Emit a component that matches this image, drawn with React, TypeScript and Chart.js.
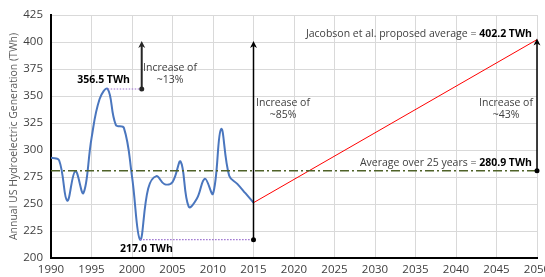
import React, { useEffect, useRef } from "react";
import { Chart, registerables } from "chart.js";

Chart.register(...registerables);

const years = [1990, 1991, 1992, 1993, 1994, 1995, 1996, 1997, 1998, 1999, 2000, 2001, 2002, 2003, 2004, 2005, 2006, 2007, 2008, 2009, 2010, 2011, 2012, 2013, 2014, 2015];
const hydro = [292.9, 290.5, 253.1, 280.5, 260.1, 310.8, 347.2, 356.5, 323.3, 320.5, 275.6, 217.0, 264.3, 275.8, 268.4, 270.3, 289.2, 247.5, 254.8, 273.4, 259.5, 319.4, 276.2, 268.6, 260.0, 251.2];
const projectionYears = [2015, 2050];
const projectionValues = [251.2, 402.2];
const averageYears = [1990, 2050];
const averageValue = 280.9;
const peakValue = 356.5;
const peakYear = 1997;
const minValue = 217.0;
const minYear = 2001;
const jacobsonValue = 402.2;
const arrowTop = 400;
const arrow13Year = 2001.2;
const arrow85Year = 2015;
const arrow43Year = 2050;
const xTicks = { min: 1990, max: 2050, step: 5 };
const yTicks = { min: 200, max: 425, step: 25 };
const yTitle = "Annual US Hydroelectric Generation (TWh)";

const FONT = "'Open Sans', sans-serif";

const annotationPlugin = {
  id: "annotations",
  afterDatasetsDraw(chart: any) {
    const ctx = chart.ctx as CanvasRenderingContext2D;
    const xs = chart.scales.x;
    const ys = chart.scales.y;
    const px = (v: number) => xs.getPixelForValue(v);
    const py = (v: number) => ys.getPixelForValue(v);
    ctx.save();

    // purple dotted guides
    ctx.strokeStyle = "#9b6fd0";
    ctx.lineWidth = 1.2;
    ctx.setLineDash([1.5, 1.5]);
    ctx.beginPath();
    ctx.moveTo(px(peakYear), py(peakValue));
    ctx.lineTo(px(arrow13Year), py(peakValue));
    ctx.moveTo(px(minYear), py(minValue));
    ctx.lineTo(px(arrow85Year), py(minValue));
    ctx.stroke();
    ctx.setLineDash([]);

    const arrow = (x: number, y0: number, y1: number, color: string, w: number) => {
      const X = px(x);
      const Y0 = py(y0);
      const Y1 = py(y1);
      ctx.strokeStyle = color;
      ctx.fillStyle = color;
      ctx.lineWidth = w;
      ctx.beginPath();
      ctx.moveTo(X, Y0);
      ctx.lineTo(X, Y1 + 2);
      ctx.stroke();
      ctx.beginPath();
      ctx.moveTo(X, Y1 - 1);
      ctx.lineTo(X - 3.5, Y1 + 6);
      ctx.lineTo(X, Y1 + 4);
      ctx.lineTo(X + 3.5, Y1 + 6);
      ctx.closePath();
      ctx.fill();
      ctx.beginPath();
      ctx.arc(X, Y0, 2.5, 0, Math.PI * 2);
      ctx.fill();
    };
    arrow(arrow13Year, peakValue, arrowTop, "#262626", 2);
    arrow(arrow85Year, minValue, arrowTop, "#000000", 1.5);
    arrow(arrow43Year, averageValue, jacobsonValue, "#000000", 1.5);

    ctx.fillStyle = "#404040";
    ctx.textBaseline = "middle";
    ctx.font = `10.5px ${FONT}`;
    ctx.textAlign = "center";
    const two = (x: number, y: number, a: string, b: string) => {
      ctx.fillText(a, x, y);
      ctx.fillText(b, x, y + 12.5);
    };
    two(170, 68, "Increase of", "~13%");
    two(283, 103, "Increase of", "~85%");
    two(506, 103, "Increase of", "~43%");

    const mixed = (right: number, y: number, a: string, b: string) => {
      ctx.font = `bold 10.5px ${FONT}`;
      const wb = ctx.measureText(b).width;
      ctx.textAlign = "right";
      ctx.fillStyle = "#000000";
      ctx.fillText(b, right, y);
      ctx.font = `10.5px ${FONT}`;
      ctx.fillStyle = "#404040";
      ctx.fillText(a, right - wb, y);
    };
    mixed(532, 34, "Jacobson et al. proposed average = ", `${jacobsonValue.toFixed(1)} TWh`);
    mixed(532, 163, "Average over 25 years = ", `${averageValue.toFixed(1)} TWh`);

    ctx.font = `bold 10.5px ${FONT}`;
    ctx.fillStyle = "#000000";
    ctx.textAlign = "right";
    ctx.fillText(`${peakValue.toFixed(1)} TWh`, 130, 80);
    ctx.textAlign = "left";
    ctx.fillText(`${minValue.toFixed(1)} TWh`, 120, 249);
    ctx.restore();
  },
};

export default function App() {
  const ref = useRef<HTMLCanvasElement | null>(null);
  useEffect(() => {
    if (!ref.current) return;
    const chart = new Chart(ref.current, {
      type: "scatter",
      data: {
        datasets: [
          {
            data: averageYears.map((x) => ({ x, y: averageValue })),
            showLine: true,
            borderColor: "#4f6228",
            borderWidth: 1.5,
            borderDash: [9, 3, 2, 3],
            pointRadius: 0,
          },
          {
            data: projectionYears.map((x, i) => ({ x, y: projectionValues[i] })),
            showLine: true,
            borderColor: "#ff0000",
            borderWidth: 1,
            pointRadius: 0,
          },
          {
            data: years.map((x, i) => ({ x, y: hydro[i] })),
            showLine: true,
            borderColor: "#4a76be",
            borderWidth: 2,
            tension: 0.4,
            pointRadius: 0,
          },
        ],
      },
      options: {
        animation: false,
        responsive: false,
        maintainAspectRatio: false,
        layout: { padding: { left: 0, right: 8, top: 15, bottom: 0 } },
        plugins: { legend: { display: false }, tooltip: { enabled: false } },
        scales: {
          x: {
            type: "linear",
            min: xTicks.min,
            max: xTicks.max,
            ticks: {
              stepSize: xTicks.step,
              callback: (v: any) => String(v),
              color: "#404040",
              font: { family: FONT, size: 11.5 },
              padding: 5,
              maxRotation: 0,
            },
            grid: { color: "#d9d9d9", lineWidth: 1, drawTicks: false },
            border: { color: "#000000", width: 2 },
            afterFit: (axis: any) => {
              axis.height = 19;
              axis.paddingLeft = 0;
              axis.paddingRight = 0;
            },
          },
          y: {
            type: "linear",
            min: yTicks.min,
            max: yTicks.max,
            ticks: {
              stepSize: yTicks.step,
              color: "#404040",
              font: { family: FONT, size: 11.5 },
              padding: 8,
            },
            grid: { color: "#d9d9d9", lineWidth: 1, drawTicks: false },
            border: { color: "#000000", width: 2 },
            title: {
              display: true,
              text: yTitle,
              color: "#595959",
              font: { family: FONT, size: 10.5 },
              padding: { top: 8, bottom: 0 },
            },
            afterFit: (axis: any) => {
              axis.width = 51;
            },
          },
        },
      },
      plugins: [annotationPlugin],
    } as any);
    return () => chart.destroy();
  }, []);
  return (
    <div style={{ position: "fixed", left: 0, top: 0, width: 545, height: 277 }}>
      <canvas ref={ref} width={545} height={277} style={{ width: 545, height: 277 }} />
    </div>
  );
}
